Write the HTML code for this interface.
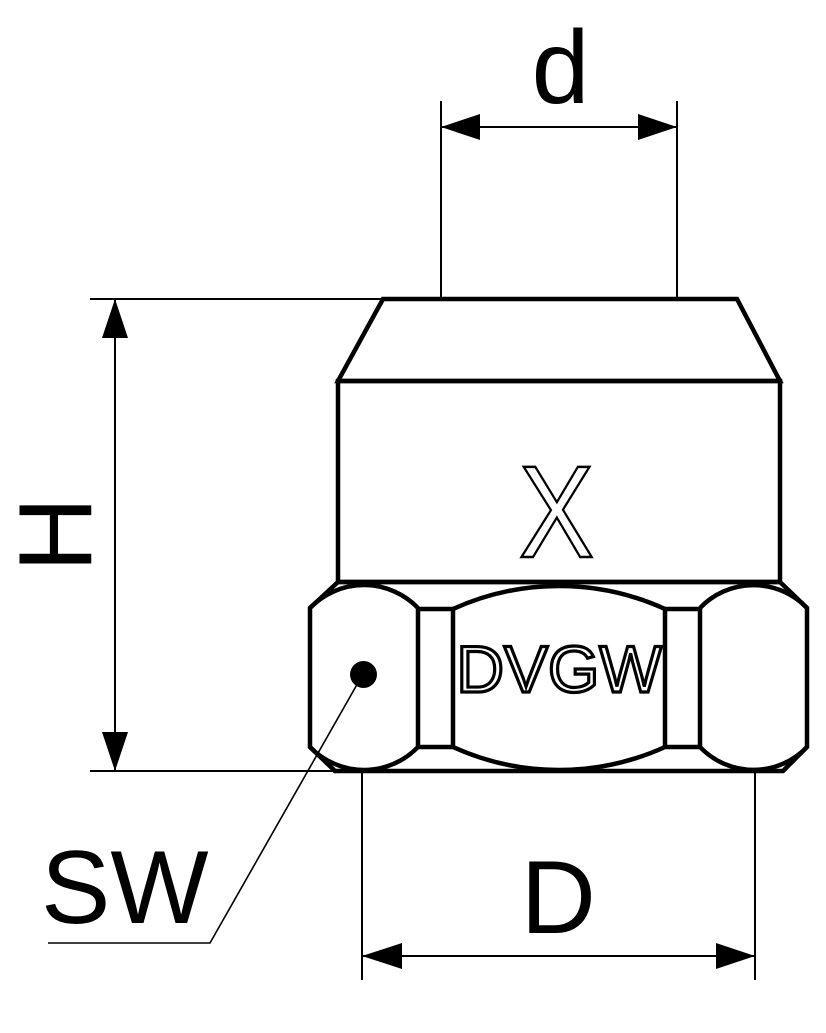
<!DOCTYPE html>
<html>
<head>
<meta charset="utf-8">
<style>
  html, body { margin:0; padding:0; background:#fff; }
  svg { display:block; }
  text { font-family: "Liberation Sans", Arial, sans-serif; }
</style>
</head>
<body>
<svg width="826" height="1033" viewBox="0 0 826 1033" xmlns="http://www.w3.org/2000/svg">
  <rect width="826" height="1033" fill="#fff"/>

  <!-- thin dimension / extension lines -->
  <g stroke="#000" stroke-width="2" fill="none">
    <!-- d -->
    <line x1="441" y1="101" x2="441" y2="299"/>
    <line x1="677" y1="101" x2="677" y2="299"/>
    <line x1="441" y1="127" x2="677" y2="127"/>
    <!-- H -->
    <line x1="90" y1="299" x2="385" y2="299"/>
    <line x1="90" y1="771" x2="336" y2="771"/>
    <line x1="115" y1="299" x2="115" y2="771"/>
    <!-- D -->
    <line x1="362" y1="771" x2="362" y2="980"/>
    <line x1="755" y1="771" x2="755" y2="980"/>
    <line x1="362" y1="956" x2="755" y2="956"/>
  </g>
  <!-- leader SW -->
  <polyline points="363,674 210,943 48,943" stroke="#000" stroke-width="1.6" fill="none"/>

  <!-- arrowheads -->
  <g fill="#000">
    <polygon points="441,127 480,114 480,140"/>
    <polygon points="677,127 638,114 638,140"/>
    <polygon points="115,299 102,338 128,338"/>
    <polygon points="115,771 102,732 128,732"/>
    <polygon points="362,956 402,943 402,969"/>
    <polygon points="755,956 716,943 716,969"/>
  </g>

  <!-- body outline -->
  <g stroke="#000" stroke-width="4.5" fill="none" stroke-linejoin="miter">
    <polygon points="383,299 737,299 780,381 338,381"/>
    <rect x="338" y="381" width="442" height="201"/>
    <polygon points="338,582 310,608 310,747 335,771 783,771 807,747 807,608 780,582"/>
    <!-- hex faces -->
    <path d="M310,608 A75,75 0 0 1 418,608"/>
    <path d="M310,747 A75,75 0 0 0 418,747"/>
    <path d="M453,609 A256,256 0 0 1 665,609"/>
    <path d="M453,747 A256,256 0 0 0 665,747"/>
    <path d="M700,608 A74,74 0 0 1 807,608"/>
    <path d="M700,747 A74,74 0 0 0 807,747"/>
    <line x1="418" y1="608" x2="418" y2="747"/>
    <line x1="453" y1="608" x2="453" y2="747"/>
    <line x1="665" y1="608" x2="665" y2="747"/>
    <line x1="700" y1="608" x2="700" y2="747"/>
    <line x1="418" y1="609" x2="453" y2="609"/>
    <line x1="418" y1="747" x2="453" y2="747"/>
    <line x1="665" y1="609" x2="700" y2="609"/>
    <line x1="665" y1="747" x2="700" y2="747"/>
  </g>

  <!-- dot -->
  <circle cx="363.5" cy="674.5" r="13.5" fill="#000"/>

  <!-- outlined texts -->
  <text x="559" y="692" font-size="66" text-anchor="middle" fill="#fff" stroke="#000" stroke-width="3.2">DVGW</text>
  <g transform="translate(556.5,0) scale(0.86,1)">
    <text x="0" y="557" font-size="131" text-anchor="middle" fill="#fff" stroke="#000" stroke-width="2.5">X</text>
  </g>

  <!-- dimension labels -->
  <text x="560.5" y="103" font-size="104" text-anchor="middle" fill="#000">d</text>
  <g transform="translate(53.5,534.5) rotate(-90)">
    <text x="0" y="37.5" font-size="104" text-anchor="middle" fill="#000">H</text>
  </g>
  <text x="558.3" y="933" font-size="104" text-anchor="middle" fill="#000">D</text>
  <text x="41" y="923" font-size="104" fill="#000">SW</text>
</svg>
</body>
</html>
